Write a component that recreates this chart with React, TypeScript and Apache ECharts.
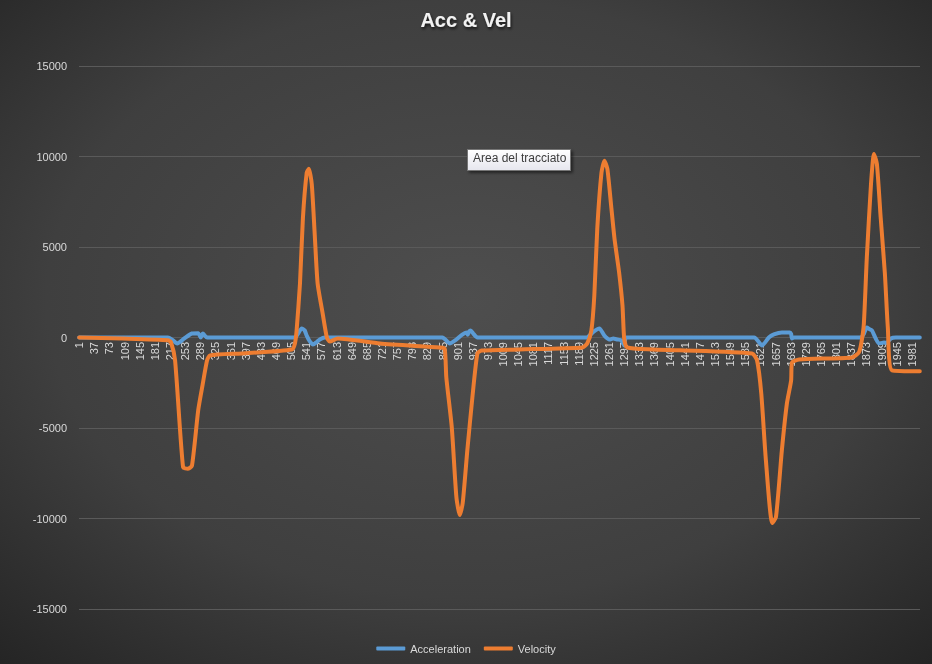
import React, { useEffect, useRef } from "react";
import * as echarts from "echarts";

// sample numbers shown on the category axis (1 .. 2000)
const SAMPLE_COUNT = 2000;
const categories = Array.from({ length: SAMPLE_COUNT }, (_, i) => String(i + 1));

const yTicks = { min: -15000, max: 15000, interval: 5000 };

// Velocity: sample index (0-based) and value
const velIdx = [
  0, 102, 211, 218, 228, 247, 258, 268, 283, 294, 304, 311, 387, 506, 513, 517, 525, 532, 541, 546,
  553, 560, 567, 579, 589, 596, 615, 715, 857, 869, 873, 886, 897, 905, 912, 923, 935, 947, 957, 1047,
  1197, 1208, 1218, 1225, 1232, 1242, 1249, 1256, 1265, 1273, 1284, 1292, 1296, 1303, 1363, 1427, 1600, 1612, 1622, 1633,
  1648, 1657, 1671, 1683, 1693, 1695, 1712, 1838, 1854, 1860, 1866, 1873, 1883, 1890, 1897, 1906, 1916, 1923, 1933, 1999,
];
const velVal = [
  0, -60, -150, -250, -1270, -7170, -7250, -7100, -4020, -2540, -1270, -990, -880, -660, -330, 390, 2980, 6600, 9100, 9320,
  8490, 5730, 2980, 1320, 0, -220, -55, -330, -550, -600, -2200, -4960, -8820, -9810, -9150, -6230, -3310, -880, -720, -660,
  -550, -330, 390, 2320, 6010, 9100, 9760, 9320, 7280, 5460, 3580, 1760, -55, -550, -660, -700, -880, -1270, -3090, -6780,
  -10250, -9920, -6230, -3640, -2370, -1380, -1210, -1100, -830, -300, 770, 4410, 8490, 10140, 9590, 6620, 3530, 550, -1820, -1870,
];

// Acceleration: sample index (0-based) and value
const accIdx = [
  0, 211, 220, 233, 250, 268, 283, 289, 294, 304, 513, 520, 529, 536, 541, 548, 556, 565, 572, 584,
  864, 870, 881, 895, 910, 921, 924, 927, 931, 937, 947, 1208, 1213, 1225, 1237, 1249, 1261, 1270, 1280, 1289,
  1296, 1301, 1605, 1624, 1640, 1652, 1671, 1690, 1693, 1695, 1700, 1859, 1866, 1873, 1880, 1885, 1902, 1914, 1920, 1930,
  1942, 1999,
];
const accVal = [
  0, 0, -100, -330, -50, 220, 240, 0, 220, 0, 0, 200, 500, 400, 100, -200, -390, -250, -110, 0,
  0, -100, -330, -150, 150, 280, 150, 320, 390, 220, 0, 0, 100, 350, 500, 100, -110, -60, -110, -150,
  -440, 0, 0, -440, 0, 170, 280, 280, 200, -50, 0, 0, 200, 550, 450, 400, -330, -280, -300, -55,
  0, 0,
];

const seriesNames = ["Acceleration", "Velocity"];
const seriesColors = ["#5b9bd5", "#ed7d31"];

export default function App() {
  const ref = useRef<HTMLDivElement>(null);

  useEffect(() => {
    if (!ref.current) return;
    const chart = echarts.init(ref.current, undefined, { renderer: "svg" });
    const accData = accIdx.map((x, k) => [x, accVal[k]]);
    const velData = velIdx.map((x, k) => [x, velVal[k]]);
    const font = "'Liberation Sans', Arial, sans-serif";

    chart.setOption({
      animation: false,
      backgroundColor: {
        type: "radial",
        x: 0.5,
        y: 0.45,
        r: 0.75,
        colorStops: [
          { offset: 0, color: "#4e4e4e" },
          { offset: 0.6, color: "#3f3f3f" },
          { offset: 1, color: "#242424" },
        ],
      },
      title: {
        text: "Acc & Vel",
        left: "center",
        top: 5,
        textStyle: {
          color: "#f2f2f2",
          fontSize: 20,
          fontWeight: "bold",
          fontFamily: font,
          textShadowColor: "rgba(0,0,0,0.7)",
          textShadowBlur: 3,
          textShadowOffsetX: 1,
          textShadowOffsetY: 2,
        },
      },
      legend: {
        data: seriesNames,
        bottom: 5,
        left: "center",
        icon: "roundRect",
        itemWidth: 29,
        itemHeight: 4,
        itemGap: 13,
        textStyle: { color: "#d9d9d9", fontSize: 11, fontFamily: font },
      },
      grid: { left: 79, right: 12, top: 66, bottom: 55, containLabel: false },
      xAxis: {
        type: "category",
        data: categories,
        boundaryGap: true,
        offset: -272,
        axisLine: { show: true, onZero: false, lineStyle: { color: "#5a5a5a" } },
        axisTick: { show: false },
        axisLabel: {
          interval: 35,
          rotate: 90,
          color: "#d9d9d9",
          fontSize: 11,
          fontFamily: font,
          margin: 5,
        },
        splitLine: { show: false },
      },
      yAxis: {
        type: "value",
        min: yTicks.min,
        max: yTicks.max,
        interval: yTicks.interval,
        axisLine: { show: false },
        axisTick: { show: false },
        axisLabel: {
          color: "#d9d9d9",
          fontSize: 11,
          fontFamily: font,
          margin: 12,
          formatter: (v: number) => String(v),
        },
        splitLine: { lineStyle: { color: "#5a5a5a", width: 1 } },
      },
      series: [
        {
          name: seriesNames[0],
          type: "line",
          data: accData,
          showSymbol: false,
          smooth: 0.2,
          color: seriesColors[0],
          lineStyle: { width: 4, color: seriesColors[0], cap: "round", join: "round" },
          z: 3,
        },
        {
          name: seriesNames[1],
          type: "line",
          data: velData,
          showSymbol: false,
          smooth: 0.2,
          color: seriesColors[1],
          lineStyle: { width: 4, color: seriesColors[1], cap: "round", join: "round" },
          z: 4,
        },
      ],
      graphic: [
        {
          type: "rect",
          left: 467,
          top: 149,
          z: 100,
          shape: { width: 103, height: 21 },
          style: {
            fill: {
              type: "linear",
              x: 0,
              y: 0,
              x2: 0,
              y2: 1,
              colorStops: [
                { offset: 0, color: "#ffffff" },
                { offset: 1, color: "#e6e6ee" },
              ],
            },
            stroke: "#767676",
            lineWidth: 1,
            shadowColor: "rgba(0,0,0,0.5)",
            shadowBlur: 3,
            shadowOffsetX: 2,
            shadowOffsetY: 2,
          },
        },
        {
          type: "text",
          left: 473,
          top: 152,
          z: 101,
          style: {
            text: "Area del tracciato",
            fill: "#3c3c3c",
            fontSize: 12,
            fontFamily: font,
          },
        },
      ],
    });

    return () => chart.dispose();
  }, []);

  return (
    <div
      ref={ref}
      style={{ position: "fixed", left: 0, top: 0, width: 932, height: 664 }}
    />
  );
}
